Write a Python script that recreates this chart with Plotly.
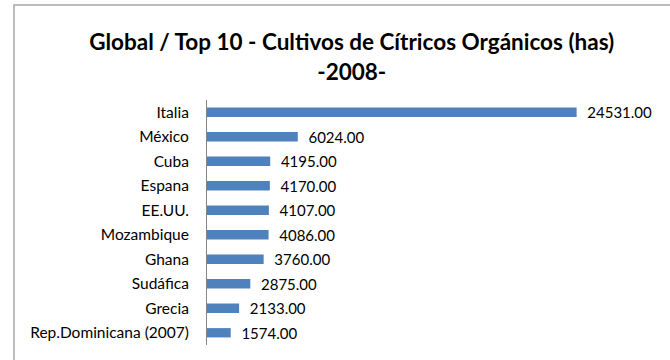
import plotly.graph_objects as go

paises = ["Italia", "México", "Cuba", "Espana", "EE.UU.", "Mozambique",
          "Ghana", "Sudáfica", "Grecia", "Rep.Dominicana (2007)"]
hectareas = [24531, 6024, 4195, 4170, 4107, 4086, 3760, 2875, 2133, 1574]

W, H = 670, 360
L, R, T, B = 207, 20, 100, 15
FONT = "Lato, 'Open Sans', sans-serif"

fig = go.Figure(go.Bar(
    x=hectareas, y=paises, orientation="h",
    marker=dict(color="#4F81BD", line=dict(width=0)),
    width=0.38,
    text=[f"\u00a0\u00a0{v:.2f}" for v in hectareas],
    textposition="outside", cliponaxis=False, constraintext="none",
    textfont=dict(size=15, color="#000000", family=FONT),
))

# outer chart-area border (cropped at right/bottom)
pw, ph = W - L - R, H - T - B
def px_x(p): return (p - L) / pw
def px_y(p): return (H - B - p) / ph
fig.add_shape(type="rect", xref="paper", yref="paper",
              x0=px_x(14), x1=px_x(W + 20), y0=px_y(H + 20), y1=px_y(5),
              line=dict(color="#A6A6A6", width=1.5), fillcolor="rgba(0,0,0,0)",
              layer="below")

fig.update_layout(
    width=W, height=H,
    margin=dict(l=L, r=R, t=T, b=B, autoexpand=False),
    paper_bgcolor="white", plot_bgcolor="white",
    font=dict(family=FONT, size=15, color="#000000"),
    title=dict(
        text="<b>Global / Top 10 - Cultivos de Cítricos Orgánicos (has)<br>-2008-</b>",
        x=0.525, xanchor="center", y=0.86, yanchor="middle",
        font=dict(size=22.5, family=FONT, color="#000000"),
    ),
    showlegend=False,
)
fig.update_xaxes(range=[0, 29400], visible=False, automargin=False)
fig.update_yaxes(autorange="reversed", showline=True, linecolor="#868686",
                 linewidth=1, ticks="", showgrid=False, ticklabelstandoff=14,
                 automargin=False, tickfont=dict(size=15.5, family=FONT))

fig.write_html("out.html", config={"displayModeBar": False},
               post_script="document.body.style.margin='0';")
